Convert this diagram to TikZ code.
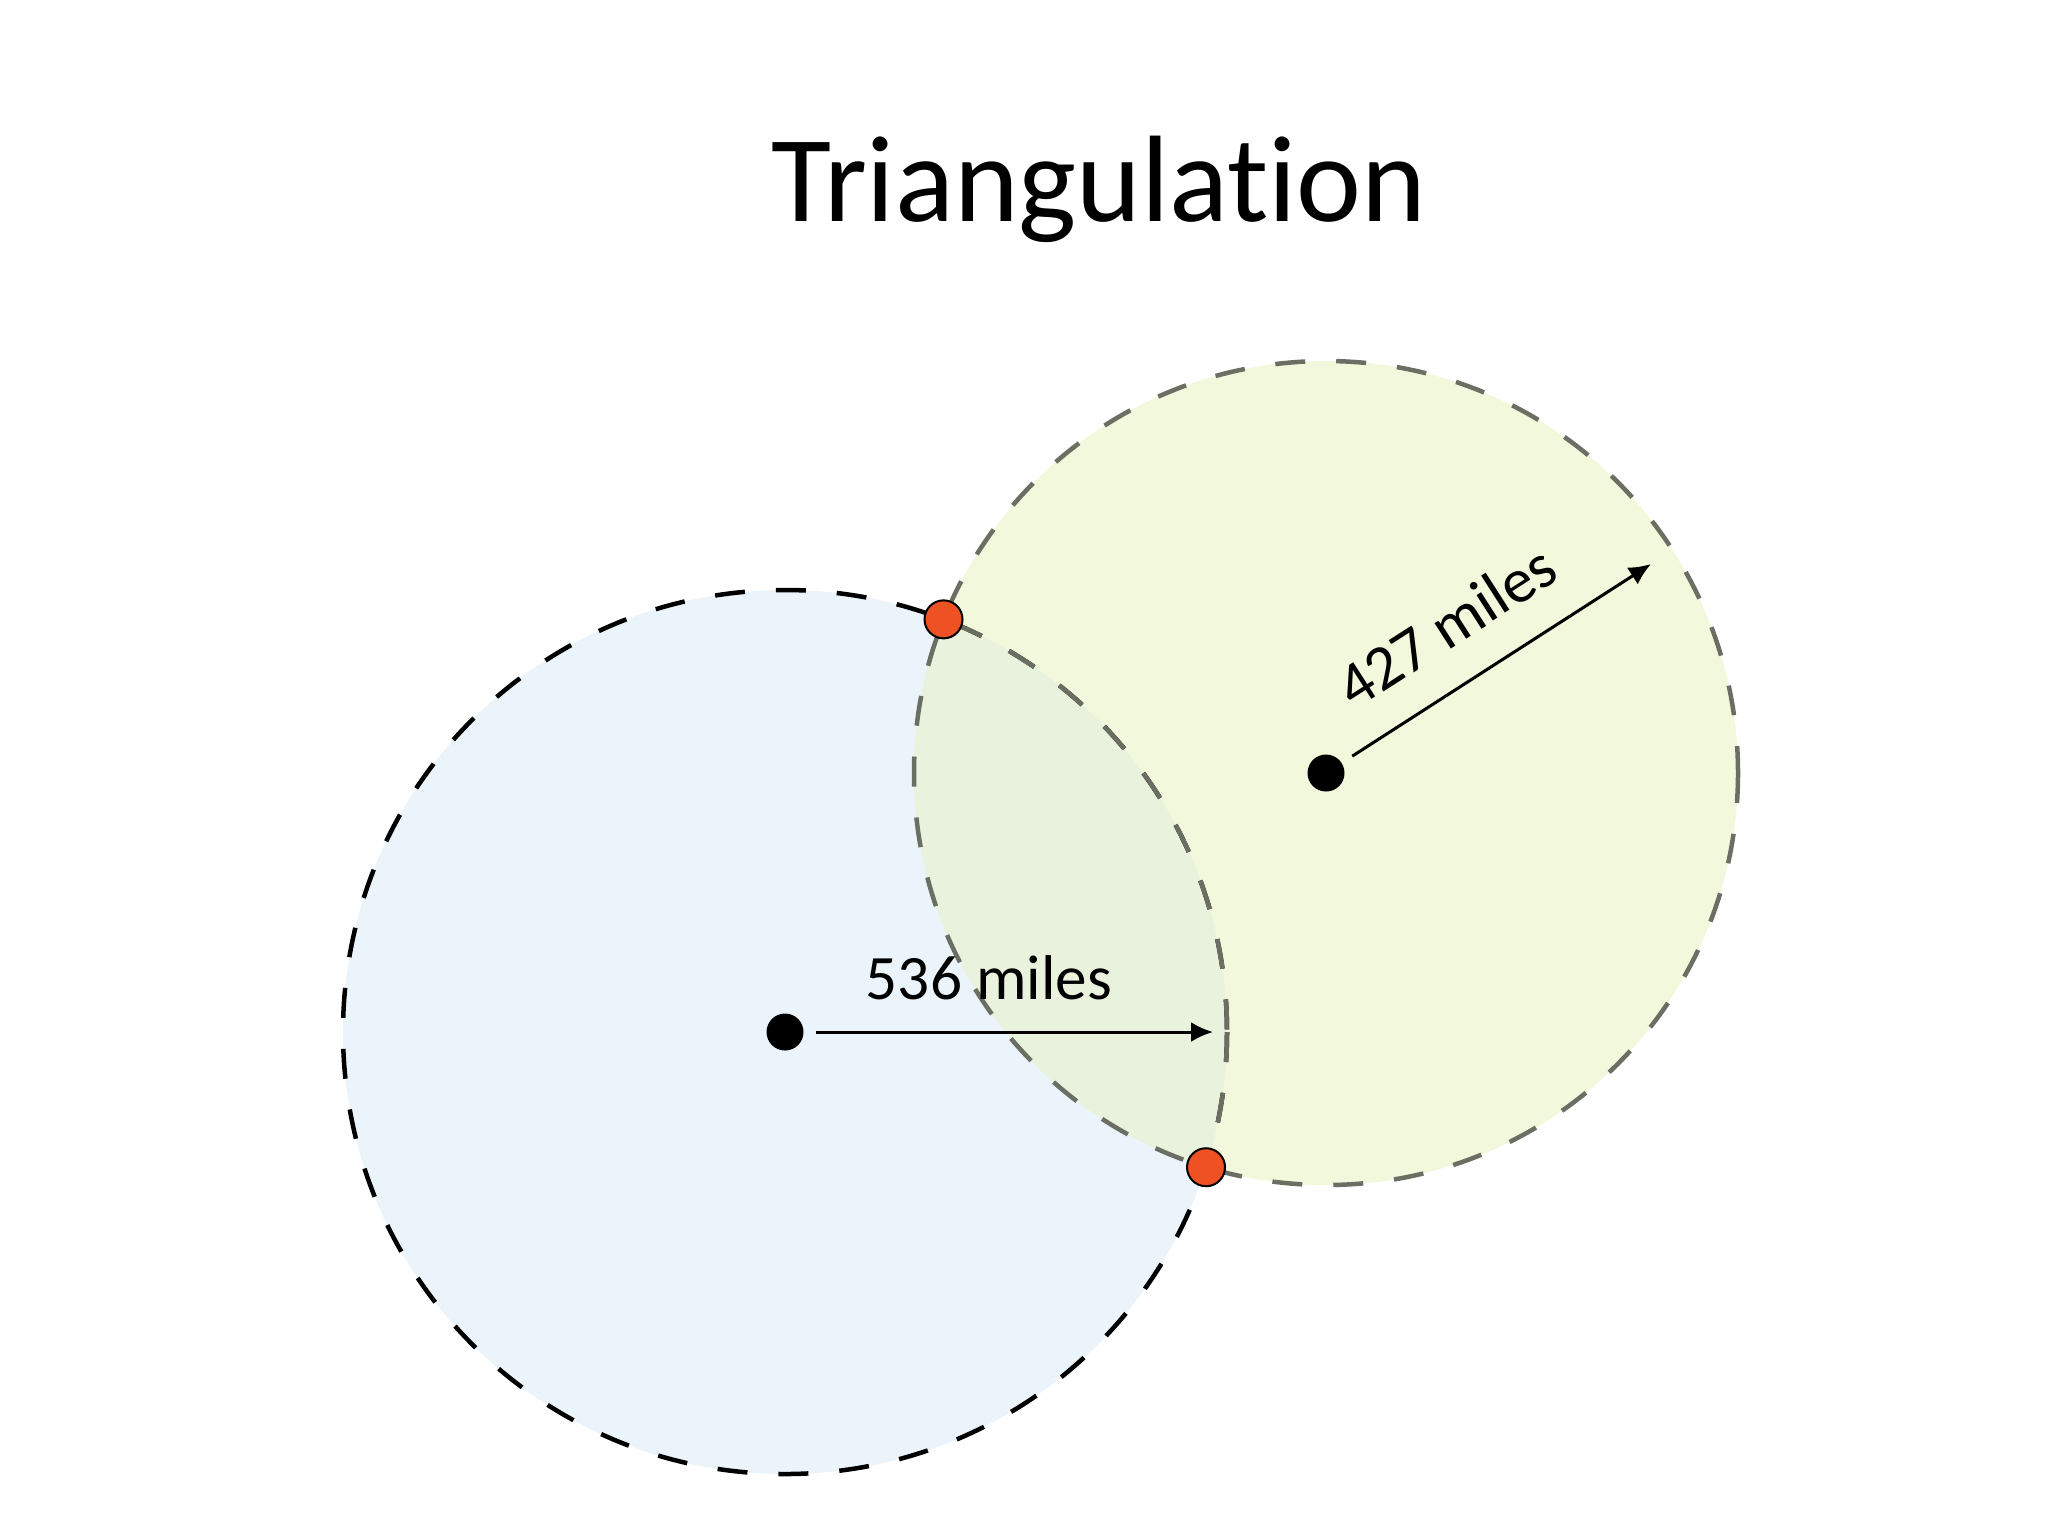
\documentclass[tikz,border=0pt]{standalone}
\usepackage{fontspec}
\setmainfont{Carlito}[Ligatures=NoCommon]
\usetikzlibrary{arrows.meta,intersections}
\definecolor{skyfill}{HTML}{EAF4FA}
\definecolor{limefill}{HTML}{F2F8DC}
\definecolor{mixfill}{HTML}{E8F2DC}
\definecolor{rimgray}{HTML}{6B6F63}
\definecolor{fixred}{RGB}{238,82,36}
\begin{document}
\begin{tikzpicture}[x=0.1mm,y=-0.1mm,
		rim/.style={line width=0.45mm,dash pattern=on 3mm off 3.1mm},
		centre/.style={circle,fill=black,inner sep=0pt,minimum size=3.7mm},
		fixpt/.style={circle,draw=black,line width=0.2mm,fill=fixred,inner sep=0pt,minimum size=3.8mm},
		radius arrow/.style={line width=0.3mm,-{Latex[length=2.2mm,width=2mm]},shorten <=1.2mm},
		miles/.style={font=\fontsize{18}{22}\selectfont}]
	\useasboundingbox (0,0) rectangle (2048,1536);
	\fill[white] (0,0) rectangle (2048,1536);
	% the two range circles
	\fill[skyfill,name path=blue] (785,1032) circle [radius=442];
	\fill[limefill,name path=green] (1326,773) circle [radius=412];
	\begin{scope}
		\clip (1326,773) circle [radius=412];
		\fill[mixfill] (785,1032) circle [radius=442];
	\end{scope}
	\draw[rim,black] (785,1032) circle [radius=442];
	\begin{scope}
		\clip (1326,773) circle [radius=412];
		\draw[rim,rimgray] (785,1032) circle [radius=442];
	\end{scope}
	\draw[rim,rimgray] (1326,773) circle [radius=412];
	% centres and radii
	\node[centre] (home) at (785,1032) {};
	\node[centre] (tower) at (1326,773) {};
	\coordinate (homeedge) at (1213,1032);
	\coordinate (toweredge) at (1651,564);
	\draw[radius arrow] (home) -- (homeedge);
	\draw[radius arrow] (tower) -- (toweredge);
	\node[miles,anchor=base] (homedist) at (989,999) {536 miles};
	\node[miles,rotate=32.7] (towerdist) at (1446,626) {427 miles};
	% where the circles meet
	\path[name intersections={of=blue and green,by={fixa,fixb}}];
	\node[fixpt] (fixone) at (fixa) {};
	\node[fixpt] (fixtwo) at (fixb) {};
	\node[anchor=base,font=\fontsize{35}{42}\selectfont] (title) at (1099,221) {Triangulation};
\end{tikzpicture}
\end{document}
